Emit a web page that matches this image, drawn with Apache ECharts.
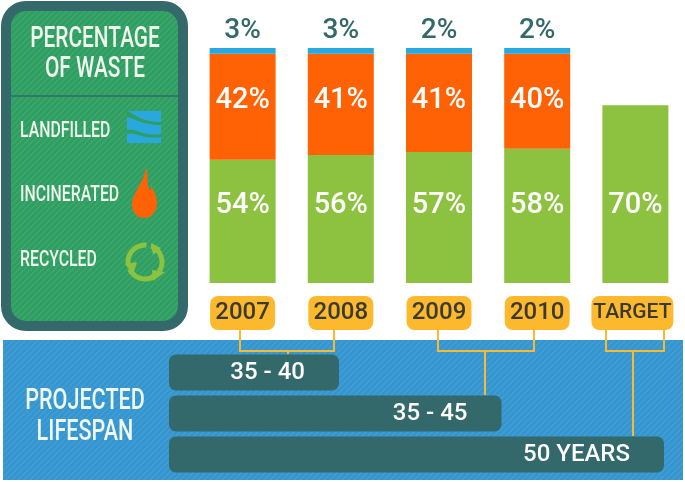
<!DOCTYPE html>
<html>
<head>
<meta charset="utf-8">
<style>html,body{margin:0;padding:0;background:#fff}#main{width:685px;height:482px}</style>
<script src="https://cdn.jsdelivr.net/npm/echarts@6/dist/echarts.min.js"></script>
</head>
<body>
<div id="main"></div>
<script>
var years = ['2007', '2008', '2009', '2010', 'TARGET'];
// printed percentages
var recycledLabels = ['54%', '56%', '57%', '58%', '70%'];
var incineratedLabels = ['42%', '41%', '41%', '40%', ''];
var landfilledLabels = ['3%', '3%', '2%', '2%', ''];
// segment lengths as drawn in the picture (the original is not to scale, target 70 = full length)
var recycled = [48.5, 50.4, 51.6, 52.8, 70];
var incinerated = [41.7, 39.8, 38.6, 37.4, null];
var landfilled = [2.4, 2.4, 2.4, 2.4, null];
var lifespanLabels = ['35 - 40', '35 - 45', '50 YEARS'];
var lifespanEnd = [40, 45, 50];
var legendNames = ['LANDFILLED', 'INCINERATED', 'RECYCLED'];

var FONT = 'Roboto, sans-serif';
var DARK = '#33696a';
var YELLOW = '#fdb92d';

// icons for the legend panel
echarts.graphic.registerShape('flameIcon', echarts.graphic.extendPath('M146 167 C149 177 146 184 150 191 C151 189 151 188 151 186 C155 192 157 197 157 203 C157 212 151 218 144 218 C137 218 132 212 132 204 C132 193 144 184 146 167 Z', {}));
echarts.graphic.registerShape('waveTop', echarts.graphic.extendPath('M127 111 C136 115 142 122 161 122 L161 125 C142 125 136 119 127 117 Z', {}));
echarts.graphic.registerShape('waveLow', echarts.graphic.extendPath('M127 130 C136 127 142 137 161 134 L161 137 C142 140 136 131 127 134 Z', {}));

function hatch(base, line) {
  var c = document.createElement('canvas');
  c.width = 6;
  c.height = 6;
  var ctx = c.getContext('2d');
  ctx.fillStyle = base;
  ctx.fillRect(0, 0, 6, 6);
  ctx.strokeStyle = line;
  ctx.lineWidth = 1.2;
  [[-1, 1, 1, -1], [0, 6, 6, 0], [5, 7, 7, 5]].forEach(function (s) {
    ctx.beginPath();
    ctx.moveTo(s[0], s[1]);
    ctx.lineTo(s[2], s[3]);
    ctx.stroke();
  });
  return c;
}

function txt(text, x, y, size, align) {
  return {
    type: 'text', z: 3, x: x, y: y, scaleX: 0.72,
    style: { text: text, fill: '#eef6ee', font: '500 ' + size + 'px ' + FONT, align: align || 'left', verticalAlign: 'middle' }
  };
}
function connector(points) {
  return { type: 'polyline', z: 1, shape: { points: points }, style: { stroke: YELLOW, lineWidth: 2, fill: null } };
}
function recycleArc(start, end) {
  return { type: 'arc', z: 3, shape: { cx: 145, cy: 262, r: 17, startAngle: start, endAngle: end }, style: { stroke: '#8cc23f', lineWidth: 5, fill: null } };
}

var graphics = [
  // legend panel
  { type: 'rect', z: 0, shape: { x: 6, y: 6, width: 177, height: 320, r: 20 },
    style: { fill: { image: hatch('#2f9e62', '#44a96f'), repeat: 'repeat' }, stroke: DARK, lineWidth: 10 } },
  { type: 'line', z: 1, shape: { x1: 10, y1: 96, x2: 178, y2: 96 }, style: { stroke: DARK, lineWidth: 1.5 } },
  txt('PERCENTAGE', 95, 40, 29, 'center'),
  txt('OF WASTE', 95, 70, 29, 'center'),
  txt(legendNames[0], 20, 131, 22),
  txt(legendNames[1], 20, 195, 22),
  txt(legendNames[2], 20, 260, 22),
  // landfill icon
  { type: 'rect', z: 2, shape: { x: 127, y: 111, width: 34, height: 32 }, style: { fill: '#29a8e0' } },
  { type: 'waveTop', z: 3, style: { fill: '#2f9e62' } },
  { type: 'waveLow', z: 3, style: { fill: '#2f9e62' } },
  // flame icon
  { type: 'flameIcon', z: 3, style: { fill: '#ff6205' } },
  // recycle icon
  recycleArc(-1.2, 0.6),
  recycleArc(0.9, 2.7),
  recycleArc(3.0, 4.8),
  { type: 'polygon', z: 3, shape: { points: [[151, 243], [161, 248], [153, 255]] }, style: { fill: '#8cc23f' } },
  { type: 'polygon', z: 3, shape: { points: [[165, 272], [153, 281], [152, 270]] }, style: { fill: '#8cc23f' } },
  { type: 'polygon', z: 3, shape: { points: [[125, 264], [137, 262], [133, 275]] }, style: { fill: '#8cc23f' } },
  // lifespan band
  { type: 'rect', z: 0, shape: { x: 3, y: 340, width: 680, height: 140 },
    style: { fill: { image: hatch('#3596cf', '#46a1d6'), repeat: 'repeat' } } },
  txt('PROJECTED', 85, 401, 30, 'center'),
  txt('LIFESPAN', 85, 432, 30, 'center'),
  connector([[240, 329], [240, 351], [334, 351], [334, 329]]),
  connector([[288, 351], [288, 354]]),
  connector([[438, 329], [438, 351], [534, 351], [534, 329]]),
  connector([[485, 351], [485, 395]]),
  connector([[606, 329], [606, 351], [664, 351], [664, 329]]),
  connector([[633, 351], [633, 436]])
];

function barLabel(labels, position, distance, size, color) {
  return {
    show: true, position: position, distance: distance,
    color: color, fontFamily: FONT, fontSize: size, fontWeight: 500,
    formatter: function (p) { return labels[p.dataIndex]; }
  };
}

var tagStyle = { backgroundColor: YELLOW, borderRadius: 8, color: '#3a3a32', fontFamily: FONT, fontWeight: 500, fontSize: 24, height: 34, lineHeight: 36, align: 'center' };

var chart = echarts.init(document.getElementById('main'));
chart.setOption({
  animation: false,
  backgroundColor: '#fff',
  graphic: { elements: graphics },
  grid: [
    { left: 193.5, top: 48, width: 491, height: 235 },
    { left: 169, top: 352, width: 495, height: 123 }
  ],
  xAxis: [
    {
      type: 'category', gridIndex: 0, data: years,
      axisLine: { show: false }, axisTick: { show: false },
      axisLabel: {
        margin: 12, interval: 0,
        formatter: function (v) { return v === 'TARGET' ? '{wide|' + v + '}{gap|}' : '{tag|' + v + '}'; },
        rich: {
          tag: Object.assign({ width: 65 }, tagStyle),
          wide: Object.assign({}, tagStyle, { width: 82, fontSize: 21 }),
          gap: { width: 6 }
        }
      }
    },
    { type: 'value', gridIndex: 1, min: 34.77, max: 50, show: false }
  ],
  yAxis: [
    { type: 'value', gridIndex: 0, min: 0, max: 92.5, show: false },
    { type: 'category', gridIndex: 1, data: lifespanLabels, inverse: true, show: false }
  ],
  series: [
    { name: 'Recycled', type: 'bar', stack: 'waste', barWidth: 66, data: recycled,
      itemStyle: { color: '#8cc23f' }, label: barLabel(recycledLabels, 'insideBottom', 63, 29, '#fff') },
    { name: 'Incinerated', type: 'bar', stack: 'waste', data: incinerated,
      itemStyle: { color: '#ff6205' }, label: barLabel(incineratedLabels, 'insideTop', 32, 29, '#fff') },
    { name: 'Landfilled', type: 'bar', stack: 'waste', data: landfilled,
      itemStyle: { color: '#29a8e0' }, label: barLabel(landfilledLabels, 'top', 3, 28, DARK) },
    { name: 'Lifespan', type: 'bar', xAxisIndex: 1, yAxisIndex: 1, barWidth: 36, data: lifespanEnd,
      itemStyle: { color: DARK, borderRadius: 7 },
      label: barLabel(lifespanLabels, 'insideRight', 34, 24, '#fff') }
  ]
});
</script>
</body>
</html>
